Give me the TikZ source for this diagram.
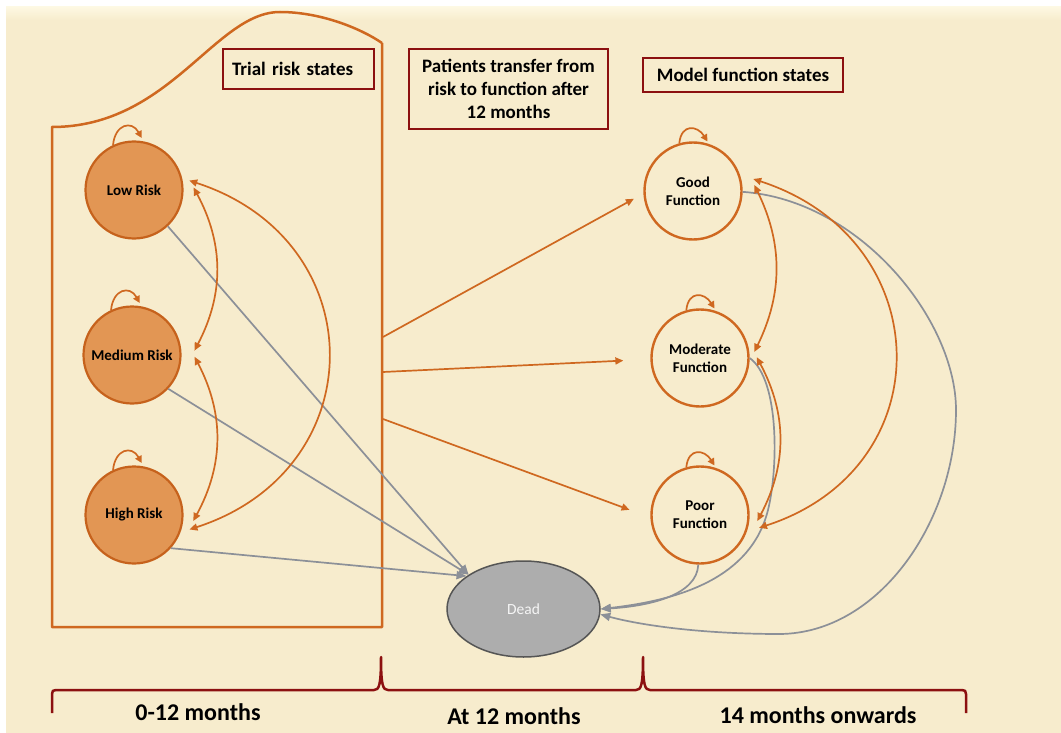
\documentclass[tikz,border=0pt]{standalone}
\usepackage{fontspec}
\setmainfont{Carlito}
\usetikzlibrary{arrows.meta,calc,shapes.geometric}
\definecolor{cream}{RGB}{247,236,205}
\definecolor{creamhi}{RGB}{253,248,226}
\definecolor{rust}{RGB}{207,104,32}
\definecolor{riskfill}{RGB}{226,150,84}
\definecolor{riskedge}{RGB}{198,98,28}
\definecolor{boxred}{RGB}{140,16,16}
\definecolor{linkgray}{RGB}{140,144,152}
\definecolor{deadfill}{RGB}{173,173,173}
\definecolor{deadedge}{RGB}{85,85,85}

\begin{document}
\begin{tikzpicture}[x=1pt,y=-1pt,
  riskstate/.style={circle, draw=riskedge, line width=2.2pt, fill=riskfill,
    minimum size=97pt, inner sep=0pt, align=center,
    font=\bfseries\fontsize{15}{18}\selectfont},
  funcstate/.style={circle, draw=rust, line width=2.4pt, fill=cream,
    minimum size=97pt, inner sep=0pt, align=center,
    font=\bfseries\fontsize{15}{18}\selectfont},
  captionbox/.style={draw=boxred, line width=2.5pt, fill=cream, inner ysep=0pt,
    font=\bfseries\fontsize{19}{23}\selectfont},
  periodlabel/.style={font=\bfseries\fontsize{24}{26}\selectfont},
  tipo/.tip={Triangle[length=8pt,width=7pt]},
  tipg/.tip={Triangle[length=10pt,width=8pt]},
  flow/.style={draw=rust, line width=1.7pt, -tipo},
  swap/.style={draw=rust, line width=1.7pt, tipo-tipo},
  stay/.style={draw=rust, line width=1.7pt, -{Triangle[length=7pt,width=7pt]}},
  death/.style={draw=linkgray, line width=1.7pt, -tipg},
]
\useasboundingbox (0,0) rectangle (1061,733);

% page background
\fill[white] (0,0) rectangle (1061,733);
\fill[cream] (6,7) rectangle (1061,733);
\shade[top color=creamhi, bottom color=cream] (6,7) rectangle (1061,20);

% container of the trial risk states
\draw[rust, line width=2.5pt, line join=round]
  (382,43) -- (382,627) -- (52,627) -- (52,127)
  .. controls (170,127) and (215,12) .. (280,12)
  .. controls (320,12) and (360,28) .. (382,43);

% caption boxes
\node[captionbox, text width=133pt, inner xsep=9pt, minimum height=40pt, align=left]
  (trialcap) at (298.5,69) {Trial risk states};
\node[captionbox, minimum width=199pt, minimum height=80pt, align=center]
  (transfercap) at (508.5,89) {Patients transfer from\\risk to function after\\12 months};
\node[captionbox, minimum width=200pt, minimum height=34pt, align=center]
  (modelcap) at (743,75) {Model function states};

% states
\node[riskstate] (lr) at (134,190) {Low Risk};
\node[riskstate] (mr) at (132,355) {Medium Risk};
\node[riskstate] (hr) at (134,515) {High Risk};
\node[funcstate] (gf) at (693,191) {Good\\Function};
\node[funcstate] (mf) at (700,358) {Moderate\\Function};
\node[funcstate] (pf) at (700,515) {Poor\\Function};
\node[ellipse, draw=deadedge, line width=1.5pt, fill=deadfill,
  minimum width=153pt, minimum height=96pt, inner sep=0pt,
  text=white!92!gray, font=\fontsize{15.5}{17}\selectfont] (dead) at (523.5,609) {Dead};

% transfer points on the container edge
\coordinate (out1) at (383,337);
\coordinate (out2) at (383,372);
\coordinate (out3) at (383,419);

% deaths
\draw[death] (lr.-47) -- (dead.148);
\draw[death] (mr.-43) -- (dead.148);
\draw[death] (hr.-42) -- (dead.150);
\draw[death] (gf.-1) .. controls (860,200) and (956,320) .. (956,410)
  .. controls (956,520) and (880,633) .. (780,634)
  .. controls (700,634) and (640,625) .. (dead.-4);
\draw[death] (mf.0) .. controls (780,380) and (778,470) .. (768,510)
  .. controls (751,578) and (680,600) .. (dead.0);
\draw[death] (pf.-92) .. controls (697,595) and (650,606) .. (dead.0);

% transfer at 12 months
\draw[flow] (out1) -- ([xshift=-10pt]gf.189);
\draw[flow] (out2) -- ([xshift=-27pt]mf.183);
\draw[flow] (out3) -- ([xshift=-21pt]pf.174);

% moves between risk states
\draw[swap] ([xshift=10pt]lr.3) to[bend left=28] ([xshift=13pt]mr.5);
\draw[swap] ([xshift=13pt]mr.-2) to[bend left=28] ([xshift=10pt]hr.-7);
\draw[swap] ([xshift=6.5pt]lr.11) .. controls +(185,60) and +(185,-60) .. ([xshift=8pt]hr.-17);

% moves between function states
\draw[swap] ([xshift=12pt]gf.7) to[bend left=26] ([xshift=5pt]mf.7);
\draw[swap] ([xshift=7pt]mf.1) to[bend left=28] ([xshift=8pt]pf.-7);
\draw[swap] ([xshift=12pt]gf.14) .. controls +(185,60) and +(185,-60) .. ([xshift=11pt]pf.-15);

% staying in the same state
\foreach \s in {lr,mr,hr}
  \draw[stay] (\s.115) .. controls +(2,-21) and +(-10,-18) .. ([yshift=3pt]\s.81);
\foreach \s in {gf,mf,pf}
  \draw[stay] (\s.106) .. controls +(2,-20) and +(-10,-16) .. ([yshift=2pt]\s.73);

% time line
\draw[boxred, line width=2.5pt, line join=round]
  (52,713) -- (52,694) .. controls (52,691) and (53,690) .. (56,690)
  -- (374,690) .. controls (379,690) and (381,686) .. (381,657)
  .. controls (381,686) and (383,690) .. (388,690)
  -- (636,690) .. controls (641,690) and (643,686) .. (643,657)
  .. controls (643,686) and (645,690) .. (650,690)
  -- (962,690) .. controls (965,690) and (966,691) .. (966,694) -- (966,713);
\node[periodlabel] (p1) at (198,712) {0-12 months};
\node[periodlabel] (p2) at (514,716) {At 12 months};
\node[periodlabel] (p3) at (818,715) {14 months onwards};
\end{tikzpicture}
\end{document}
